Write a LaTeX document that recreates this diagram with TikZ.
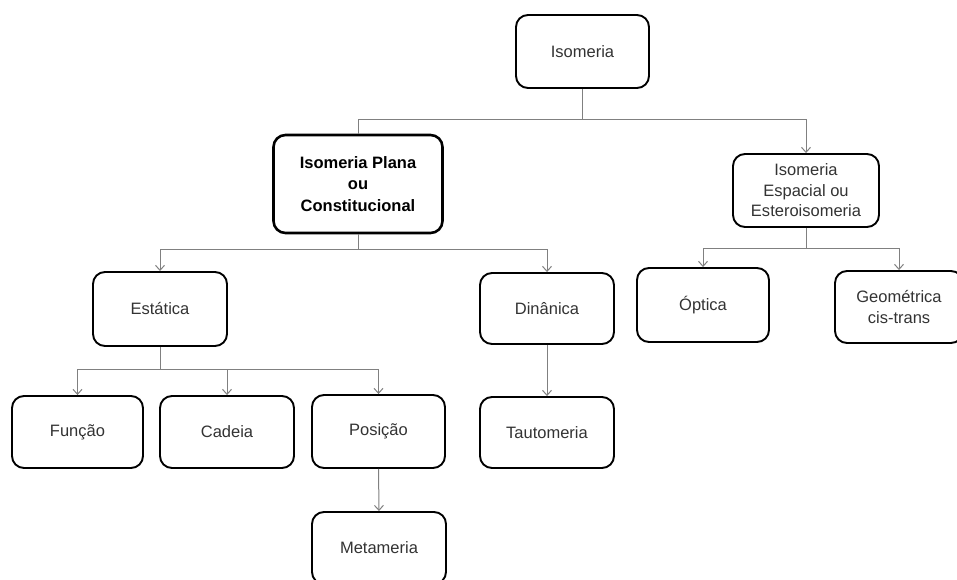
\documentclass[tikz,border=0pt]{standalone}
\usepackage{fontspec}
\setmainfont{Liberation Sans}
\usetikzlibrary{arrows.meta}
\definecolor{txt}{HTML}{333333}
\definecolor{wire}{HTML}{808080}
\begin{document}
\begin{tikzpicture}[x=1pt,y=-1pt,
  box/.style={draw=black,line width=1.9pt,rounded corners=12pt,fill=white,
    text=txt,font=\fontsize{16.5}{20.5}\selectfont,align=center,inner sep=0pt},
  boldbox/.style={box,line width=2.6pt,text=black,font=\fontsize{16.5}{21.5}\selectfont\bfseries},
  conn/.style={draw=wire,line width=1pt},
  arr/.style={conn,-{Straight Barb[length=5pt,width=9pt]}}]
\useasboundingbox (0,0) rectangle (957,580);
\node[box,minimum width=133pt,minimum height=73pt] (iso) at (582.5,51.5) {Isomeria};
\node[boldbox,minimum width=169pt,minimum height=98pt] (plana) at (358,184) {Isomeria Plana\\ou\\Constitucional};
\node[box,minimum width=146pt,minimum height=73pt] (esp) at (806,190.5) {Isomeria\\Espacial ou\\Esteroisomeria};
\node[box,minimum width=134pt,minimum height=74pt] (est) at (160,309) {Estática};
\node[box,minimum width=134pt,minimum height=71pt] (din) at (547,308.5) {Dinânica};
\node[box,minimum width=132pt,minimum height=74pt] (opt) at (703,305) {Óptica};
\node[box,minimum width=128pt,minimum height=72pt] (geo) at (899,307) {Geométrica\\cis-trans};
\node[box,minimum width=131pt,minimum height=72pt] (fun) at (77.5,432) {Função};
\node[box,minimum width=134pt,minimum height=72pt] (cad) at (227,432) {Cadeia};
\node[box,minimum width=133pt,minimum height=73pt] (pos) at (378.5,431.5) {Posição};
\node[box,minimum width=134pt,minimum height=71pt] (tau) at (547,432.5) {Tautomeria};
\node[box,minimum width=134pt,minimum height=72pt] (meta) at (379,548) {Metameria};
\coordinate (j1) at (582.5,120);
\coordinate (j2) at (358,249);
\coordinate (j3) at (160,369);
\coordinate (j4) at (806,248);
\draw[conn] (iso.south) -- (j1);
\draw[arr] (j1) -| (esp.north);
\draw[conn] (j1) -| (plana.north);
\draw[conn] (plana.south) -- (j2);
\draw[arr] (j2) -| (est.north);
\draw[arr] (j2) -| (din.north);
\draw[conn] (esp.south) -- (j4);
\draw[arr] (j4) -| (opt.north);
\draw[arr] (j4) -| (geo.north);
\draw[conn] (est.south) -- (j3);
\draw[arr] (j3) -| (fun.north);
\draw[arr] (j3) -| (cad.north);
\draw[arr] (j3) -| (pos.north);
\draw[arr] (din.south) -- (tau.north);
\draw[arr] (pos.south) -- (meta.north);
\end{tikzpicture}
\end{document}
